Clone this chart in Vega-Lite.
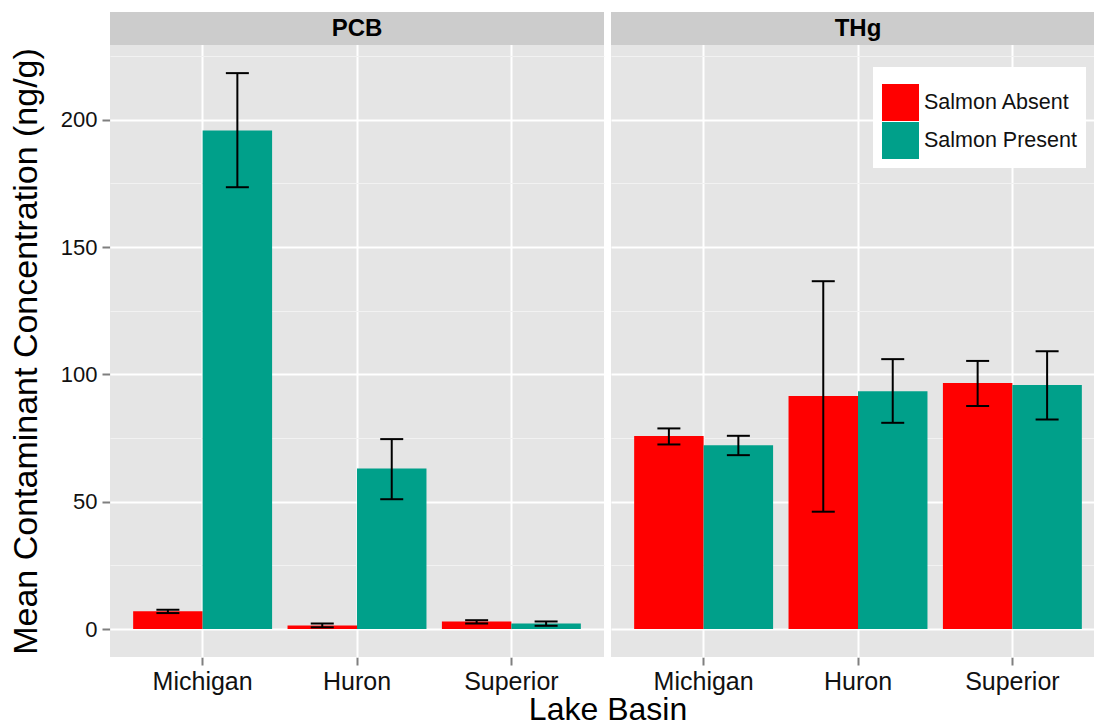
{
  "$schema": "https://vega.github.io/schema/vega-lite/v6.json",
  "padding": {"left": 9, "top": 12, "right": 0, "bottom": 0},
  "background": "white",
  "config": {
    "font": "Liberation Sans",
    "view": {"fill": "#E5E5E5", "stroke": null},
    "axis": {"labelColor": "#111111", "titleColor": "#000000", "titleFontWeight": "normal", "domain": false, "tickColor": "#7F7F7F", "tickWidth": 2, "tickSize": 8}
  },
  "data": {
    "values": [
      {"contaminant": "PCB", "lake": "Michigan", "salmon": "Salmon Absent", "mean": 7.0, "lo": 6.3, "hi": 7.6},
      {"contaminant": "PCB", "lake": "Michigan", "salmon": "Salmon Present", "mean": 195.8, "lo": 173.5, "hi": 218.3},
      {"contaminant": "PCB", "lake": "Huron", "salmon": "Salmon Absent", "mean": 1.45, "lo": 0.7, "hi": 2.2},
      {"contaminant": "PCB", "lake": "Huron", "salmon": "Salmon Present", "mean": 63.1, "lo": 51.0, "hi": 74.6},
      {"contaminant": "PCB", "lake": "Superior", "salmon": "Salmon Absent", "mean": 3.0, "lo": 2.2, "hi": 3.5},
      {"contaminant": "PCB", "lake": "Superior", "salmon": "Salmon Present", "mean": 2.2, "lo": 1.3, "hi": 3.0},
      {"contaminant": "THg", "lake": "Michigan", "salmon": "Salmon Absent", "mean": 75.8, "lo": 72.5, "hi": 78.8},
      {"contaminant": "THg", "lake": "Michigan", "salmon": "Salmon Present", "mean": 72.2, "lo": 68.3, "hi": 75.9},
      {"contaminant": "THg", "lake": "Huron", "salmon": "Salmon Absent", "mean": 91.5, "lo": 46.1, "hi": 136.6},
      {"contaminant": "THg", "lake": "Huron", "salmon": "Salmon Present", "mean": 93.4, "lo": 81.0, "hi": 106.0},
      {"contaminant": "THg", "lake": "Superior", "salmon": "Salmon Absent", "mean": 96.6, "lo": 87.6, "hi": 105.3},
      {"contaminant": "THg", "lake": "Superior", "salmon": "Salmon Present", "mean": 95.8, "lo": 82.3, "hi": 109.1}
    ]
  },
  "facet": {"column": {"field": "contaminant", "type": "nominal", "sort": ["PCB", "THg"],
    "header": {"labels": false, "title": "Lake Basin", "titleOrient": "bottom", "titleFontSize": 32, "titleFontWeight": "normal", "titleColor": "#000000", "titlePadding": -9, "titleBaseline": "top"}}},
  "spacing": 7,
  "spec": {
    "width": 494,
    "height": 645,
    "encoding": {
      "x": {
        "field": "lake", "type": "nominal", "sort": ["Michigan", "Huron", "Superior"],
        "scale": {"paddingInner": 0.1, "paddingOuter": 0.15},
        "axis": {"title": null, "labelFontSize": 25, "labelPadding": 4, "labelAngle": 0, "grid": true, "gridColor": "#FFFFFF", "gridWidth": 2, "bandPosition": 0.5}
      },
      "xOffset": {"field": "salmon", "type": "nominal", "sort": ["Salmon Absent", "Salmon Present"], "scale": {"paddingInner": 0, "paddingOuter": 0}}
    },
    "layer": [
      {
        "mark": {"type": "bar"},
        "encoding": {
          "y": {
            "field": "mean", "type": "quantitative",
            "scale": {"domain": [-10.95, 242.3], "nice": false, "zero": false},
            "axis": {
              "title": "Mean Contaminant Concentration (ng/g)", "titleFontSize": 34, "titlePadding": 17, "titleY": 339,
              "labelFontSize": 22, "labelPadding": 5,
              "values": [0, 25, 50, 75, 100, 125, 150, 175, 200, 225],
              "labelExpr": "datum.value % 50 === 0 ? datum.label : ''",
              "grid": true,
              "gridColor": {"condition": {"test": "datum.value % 50 === 0", "value": "#FFFFFF"}, "value": "#F2F2F2"},
              "gridWidth": {"condition": {"test": "datum.value % 50 === 0", "value": 2}, "value": 1},
              "tickOpacity": {"condition": {"test": "datum.value % 50 === 0", "value": 1}, "value": 0}
            }
          },
          "color": {
            "field": "salmon", "type": "nominal",
            "scale": {"domain": ["Salmon Absent", "Salmon Present"], "range": ["#FF0000", "#00A08A"]},
            "legend": {
              "title": " ", "titleFontSize": 6, "titlePadding": 2,
              "orient": "none", "legendX": 763, "legendY": 55,
              "fillColor": "#FFFFFF", "padding": 9,
              "symbolType": "square", "symbolSize": 1369, "symbolStrokeWidth": 0, "symbolOpacity": 1,
              "labelFontSize": 21.5, "labelColor": "#111111", "labelOffset": 5, "rowPadding": 1
            }
          }
        }
      },
      {
        "mark": {"type": "rule", "color": "#000000", "strokeWidth": 2},
        "encoding": {"y": {"field": "lo", "type": "quantitative"}, "y2": {"field": "hi"}}
      },
      {
        "mark": {"type": "tick", "color": "#000000", "size": 23, "thickness": 2, "opacity": 1},
        "encoding": {"y": {"field": "lo", "type": "quantitative"}}
      },
      {
        "mark": {"type": "tick", "color": "#000000", "size": 23, "thickness": 2, "opacity": 1},
        "encoding": {"y": {"field": "hi", "type": "quantitative"}}
      },
      {
        "transform": [{"filter": "datum.lake === 'Huron' && datum.salmon === 'Salmon Absent'"}],
        "mark": {"type": "rect", "fill": "#CCCCCC"},
        "encoding": {"x": {"value": 0}, "x2": {"value": "width"}, "y": {"datum": 229.3}, "y2": {"datum": 242.3}, "xOffset": null}
      },
      {
        "transform": [{"filter": "datum.lake === 'Huron' && datum.salmon === 'Salmon Absent'"}],
        "mark": {"type": "text", "fontWeight": "bold", "fontSize": 24, "color": "#000000", "baseline": "middle", "align": "center"},
        "encoding": {"x": {"value": 247}, "y": {"datum": 235.8}, "text": {"field": "contaminant"}, "xOffset": null}
      }
    ]
  }
}
